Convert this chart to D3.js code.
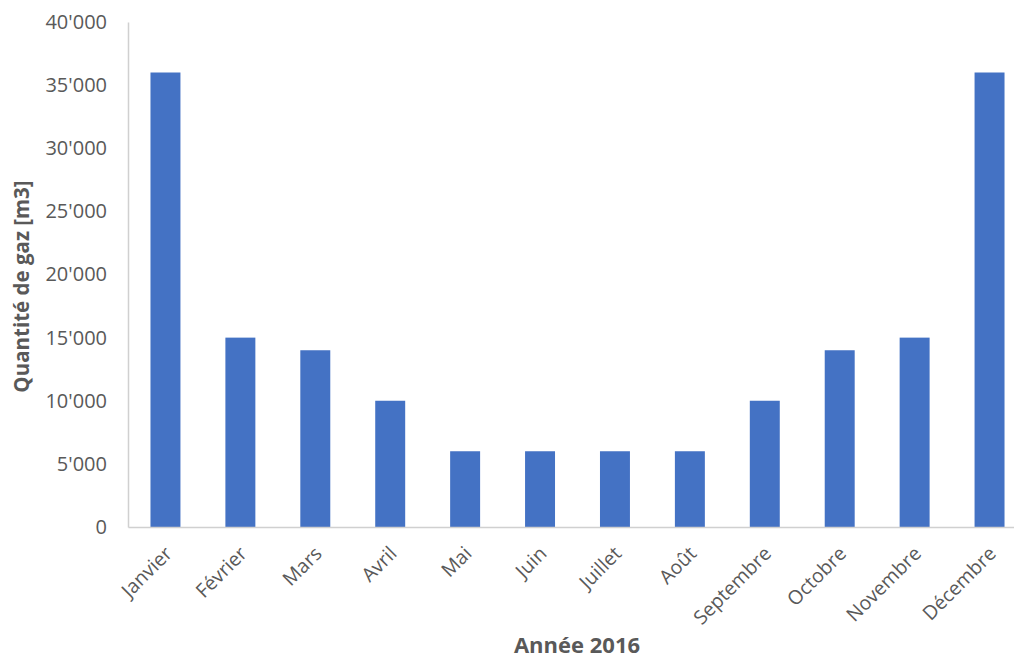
<!DOCTYPE html>
<html>
<head>
<meta charset="utf-8">
<script src="https://cdn.jsdelivr.net/npm/d3@7/dist/d3.min.js"></script>
<style>
  html, body { margin: 0; padding: 0; background: #fff; }
  svg text { font-family: "Open Sans", "Noto Sans", sans-serif; fill: #595959; }
</style>
</head>
<body>
<svg id="chart" width="1014" height="665"></svg>
<script>
// Monthly gas consumption, 2016
const months = ["Janvier", "Février", "Mars", "Avril", "Mai", "Juin", "Juillet", "Août", "Septembre", "Octobre", "Novembre", "Décembre"];
const gasVolume = [36000, 15000, 14000, 10000, 6000, 6000, 6000, 6000, 10000, 14000, 15000, 36000];
const yTicks = [0, 5000, 10000, 15000, 20000, 25000, 30000, 35000, 40000];
const yTitle = "Quantité de gaz [m3]";
const xTitle = "Année 2016";

const svg = d3.select("#chart");
const plot = { left: 128, right: 1027, top: 22, bottom: 527 };

const x = d3.scaleBand().domain(months).range([plot.left, plot.right]).paddingInner(0.6).paddingOuter(0.3);
const y = d3.scaleLinear().domain([0, 40000]).range([plot.bottom, plot.top]);

const fmt = v => d3.format(",")(v).replace(/,/g, "'");

// bars
svg.append("g").selectAll("rect").data(months).join("rect")
  .attr("x", d => x(d))
  .attr("y", (d, i) => y(gasVolume[i]))
  .attr("width", x.bandwidth())
  .attr("height", (d, i) => y(0) - y(gasVolume[i]))
  .attr("fill", "#4472c4");

// y axis
const yAxis = svg.append("g").attr("transform", `translate(${plot.left},0)`)
  .call(d3.axisLeft(y).tickValues(yTicks).tickFormat(fmt).tickSize(0).tickPadding(21));
yAxis.select(".domain").attr("stroke", "#d0d0d0").attr("stroke-width", 1.5);
yAxis.selectAll("text").attr("font-size", 20).attr("fill", "#595959")
  .style("font-family", '"Open Sans", sans-serif');

// x axis
const xAxis = svg.append("g").attr("transform", `translate(0,${plot.bottom})`)
  .call(d3.axisBottom(x).tickSize(0).tickFormat(""));
xAxis.select(".domain").attr("stroke", "#d0d0d0").attr("stroke-width", 1.5);

svg.append("g").selectAll("text").data(months).join("text")
  .attr("transform", d => `translate(${x(d) + x.bandwidth() / 2 + 3},${plot.bottom + 23}) rotate(-45)`)
  .attr("text-anchor", "end")
  .attr("dy", "0.35em")
  .attr("font-size", 19.5)
  .text(d => d);

// axis titles
svg.append("text")
  .attr("transform", `translate(29,${(plot.top + plot.bottom) / 2 + 12}) rotate(-90)`)
  .attr("text-anchor", "middle")
  .attr("font-size", 20.5)
  .attr("font-weight", "bold")
  .text(yTitle);

svg.append("text")
  .attr("x", 577)
  .attr("y", 653)
  .attr("text-anchor", "middle")
  .attr("font-size", 22)
  .attr("font-weight", "bold")
  .text(xTitle);
</script>
</body>
</html>
